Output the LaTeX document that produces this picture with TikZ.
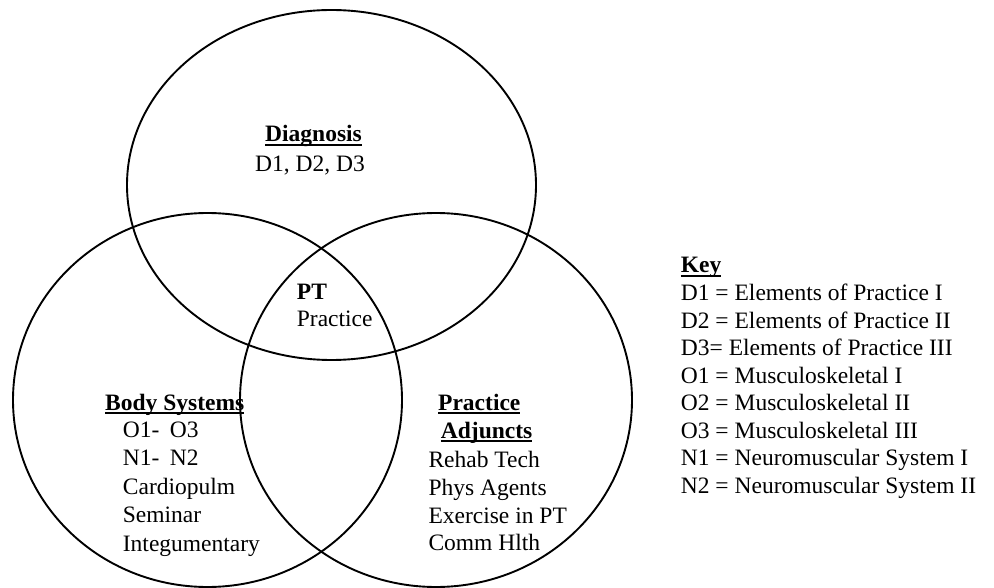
\documentclass[tikz,border=0pt]{standalone}
\usepackage{fontspec}
\setmainfont{Liberation Serif}
\newcommand\myul[1]{\setbox0\hbox{#1}\rlap{\rule[-4pt]{\wd0}{1.6pt}}\box0}
\begin{document}
\begin{tikzpicture}[x=1pt,y=-1pt,
  circ/.style={line width=1.9pt},
  txt/.style={anchor=base west,inner sep=0pt,font=\fontsize{23.5}{28}\selectfont},
  head/.style={txt,font=\fontsize{23.5}{28}\selectfont\bfseries}]
\useasboundingbox (0,0) rectangle (994,588);
% circles
\draw[circ] (331.5,185) ellipse [x radius=204.5, y radius=175];
\draw[circ] (207.5,400) ellipse [x radius=194.5, y radius=187];
\draw[circ] (436,400) ellipse [x radius=196, y radius=187];
% Diagnosis
\node[head] (diag) at (265,142) {\myul{Diagnosis}};
\node[txt] (diagl) at (255,171.7) {D1, D2, D3};
% PT practice
\node[head] (pt) at (296.7,300) {PT};
\node[txt] (ptp) at (296.7,326.7) {Practice};
% Body systems
\node[head] (bs) at (105,410) {\myul{Body Systems}};
\node[txt] (bs1) at (122.7,437) {O1-\hspace{0.45em}O3};
\node[txt] (bs2) at (122.7,465.6) {N1-\hspace{0.45em}N2};
\node[txt] (bs3) at (122.7,494.2) {Cardiopulm};
\node[txt] (bs4) at (122.7,522.8) {Seminar};
\node[txt] (bs5) at (122.7,551.4) {Integumentary};
% Practice adjuncts
\node[head] (pa) at (438,410) {\myul{Practice}};
\node[head] (pb) at (440.7,438) {\myul{Adjuncts}};
\node[txt] (pa1) at (428.3,467) {Rehab Tech};
\node[txt] (pa2) at (428.3,495) {Phys Agents};
\node[txt] (pa3) at (428.3,523) {Exercise in PT};
\node[txt] (pa4) at (428.3,550.5) {Comm Hlth};
% Key
\node[head] (key) at (680.7,273) {\myul{Key}};
\node[txt] (k1) at (680.7,300.5) {D1 = Elements of Practice I};
\node[txt] (k2) at (680.7,328) {D2 = Elements of Practice II};
\node[txt] (k3) at (680.7,355.5) {D3= Elements of Practice III};
\node[txt] (k4) at (680.7,383) {O1 = Musculoskeletal I};
\node[txt] (k5) at (680.7,410.5) {O2 = Musculoskeletal II};
\node[txt] (k6) at (680.7,438) {O3 = Musculoskeletal III};
\node[txt] (k7) at (680.7,465.5) {N1 = Neuromuscular System I};
\node[txt] (k8) at (680.7,493) {N2 = Neuromuscular System II};
\end{tikzpicture}
\end{document}
